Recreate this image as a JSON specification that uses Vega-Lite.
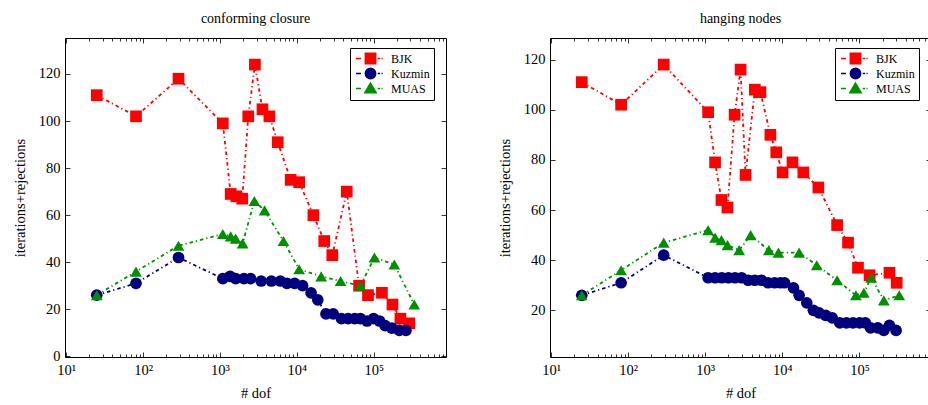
{
  "$schema": "https://vega.github.io/schema/vega-lite/v6.json",
  "padding": {"left": 12, "top": 11, "right": 0, "bottom": 0},
  "config": {
    "font": "Liberation Serif, DejaVu Serif, serif",
    "view": {"stroke": null},
    "axis": {"grid": false, "domainColor": "black", "domainWidth": 1, "tickColor": "black", "tickWidth": 0.8, "labelFont": "Liberation Serif, DejaVu Serif, serif", "labelFontSize": 14.5, "labelColor": "black", "titleFont": "Liberation Serif, DejaVu Serif, serif", "titleFontSize": 14.5, "titleFontWeight": "normal", "titleColor": "black", "labelOverlap": false, "labelFlush": false},
    "title": {"font": "Liberation Serif, DejaVu Serif, serif", "fontSize": 14, "fontWeight": "normal", "color": "black", "offset": 12},
    "legend": {"title": null, "orient": "none", "legendX": 285, "legendY": 10, "strokeColor": "black", "fillColor": "white", "padding": 4, "labelFont": "Liberation Serif, DejaVu Serif, serif", "labelFontSize": 12, "labelColor": "black", "symbolSize": 121, "rowPadding": -4, "symbolOffset": 10, "labelOffset": 14, "symbolStrokeWidth": 1.4, "symbolOpacity": 1, "cornerRadius": 0}
  },
  "datasets": {
    "conforming": [
      {"series": "BJK", "dof": 25, "val": 111}, {"series": "BJK", "dof": 81, "val": 102}, {"series": "BJK", "dof": 289, "val": 118}, {"series": "BJK", "dof": 1089, "val": 99}, {"series": "BJK", "dof": 1378, "val": 69}, {"series": "BJK", "dof": 1633, "val": 68}, {"series": "BJK", "dof": 1950, "val": 67}, {"series": "BJK", "dof": 2333, "val": 102}, {"series": "BJK", "dof": 2846, "val": 124}, {"series": "BJK", "dof": 3570, "val": 105}, {"series": "BJK", "dof": 4393, "val": 102}, {"series": "BJK", "dof": 5640, "val": 91}, {"series": "BJK", "dof": 8300, "val": 75}, {"series": "BJK", "dof": 10700, "val": 74}, {"series": "BJK", "dof": 16400, "val": 60}, {"series": "BJK", "dof": 22700, "val": 49}, {"series": "BJK", "dof": 28900, "val": 43}, {"series": "BJK", "dof": 44500, "val": 70}, {"series": "BJK", "dof": 64400, "val": 30}, {"series": "BJK", "dof": 84100, "val": 26}, {"series": "BJK", "dof": 127600, "val": 27}, {"series": "BJK", "dof": 175000, "val": 22}, {"series": "BJK", "dof": 222000, "val": 16}, {"series": "BJK", "dof": 290000, "val": 14},
      {"series": "Kuzmin", "dof": 25, "val": 26}, {"series": "Kuzmin", "dof": 81, "val": 31}, {"series": "Kuzmin", "dof": 289, "val": 42}, {"series": "Kuzmin", "dof": 1089, "val": 33}, {"series": "Kuzmin", "dof": 1355, "val": 34}, {"series": "Kuzmin", "dof": 1600, "val": 33}, {"series": "Kuzmin", "dof": 2051, "val": 33}, {"series": "Kuzmin", "dof": 2500, "val": 33}, {"series": "Kuzmin", "dof": 3430, "val": 32}, {"series": "Kuzmin", "dof": 4660, "val": 32}, {"series": "Kuzmin", "dof": 6100, "val": 32}, {"series": "Kuzmin", "dof": 7430, "val": 31}, {"series": "Kuzmin", "dof": 9330, "val": 31}, {"series": "Kuzmin", "dof": 11850, "val": 30}, {"series": "Kuzmin", "dof": 15300, "val": 27}, {"series": "Kuzmin", "dof": 18700, "val": 24}, {"series": "Kuzmin", "dof": 23900, "val": 18}, {"series": "Kuzmin", "dof": 29700, "val": 18}, {"series": "Kuzmin", "dof": 38000, "val": 16}, {"series": "Kuzmin", "dof": 46400, "val": 16}, {"series": "Kuzmin", "dof": 56500, "val": 16}, {"series": "Kuzmin", "dof": 67000, "val": 16}, {"series": "Kuzmin", "dof": 81700, "val": 15}, {"series": "Kuzmin", "dof": 99300, "val": 16}, {"series": "Kuzmin", "dof": 118800, "val": 15}, {"series": "Kuzmin", "dof": 140600, "val": 13}, {"series": "Kuzmin", "dof": 171800, "val": 12}, {"series": "Kuzmin", "dof": 215000, "val": 11}, {"series": "Kuzmin", "dof": 262000, "val": 11},
      {"series": "MUAS", "dof": 25, "val": 26}, {"series": "MUAS", "dof": 81, "val": 36}, {"series": "MUAS", "dof": 289, "val": 47}, {"series": "MUAS", "dof": 1089, "val": 52}, {"series": "MUAS", "dof": 1378, "val": 51}, {"series": "MUAS", "dof": 1600, "val": 50}, {"series": "MUAS", "dof": 1970, "val": 48}, {"series": "MUAS", "dof": 2800, "val": 66}, {"series": "MUAS", "dof": 3800, "val": 62}, {"series": "MUAS", "dof": 6700, "val": 49}, {"series": "MUAS", "dof": 10700, "val": 37}, {"series": "MUAS", "dof": 20700, "val": 34}, {"series": "MUAS", "dof": 37000, "val": 32}, {"series": "MUAS", "dof": 67000, "val": 30}, {"series": "MUAS", "dof": 102000, "val": 42}, {"series": "MUAS", "dof": 185000, "val": 39}, {"series": "MUAS", "dof": 336000, "val": 22}
    ],
    "hanging": [
      {"series": "BJK", "dof": 25, "val": 111}, {"series": "BJK", "dof": 81, "val": 102}, {"series": "BJK", "dof": 289, "val": 118}, {"series": "BJK", "dof": 1089, "val": 99}, {"series": "BJK", "dof": 1340, "val": 79}, {"series": "BJK", "dof": 1622, "val": 64}, {"series": "BJK", "dof": 1940, "val": 61}, {"series": "BJK", "dof": 2400, "val": 98}, {"series": "BJK", "dof": 2870, "val": 116}, {"series": "BJK", "dof": 3330, "val": 74}, {"series": "BJK", "dof": 4390, "val": 108}, {"series": "BJK", "dof": 5200, "val": 107}, {"series": "BJK", "dof": 6990, "val": 90}, {"series": "BJK", "dof": 8340, "val": 83}, {"series": "BJK", "dof": 10070, "val": 75}, {"series": "BJK", "dof": 13530, "val": 79}, {"series": "BJK", "dof": 18700, "val": 75}, {"series": "BJK", "dof": 29300, "val": 69}, {"series": "BJK", "dof": 51300, "val": 54}, {"series": "BJK", "dof": 71100, "val": 47}, {"series": "BJK", "dof": 95700, "val": 37}, {"series": "BJK", "dof": 135300, "val": 34}, {"series": "BJK", "dof": 245000, "val": 35}, {"series": "BJK", "dof": 304000, "val": 31},
      {"series": "Kuzmin", "dof": 25, "val": 26}, {"series": "Kuzmin", "dof": 81, "val": 31}, {"series": "Kuzmin", "dof": 289, "val": 42}, {"series": "Kuzmin", "dof": 1089, "val": 33}, {"series": "Kuzmin", "dof": 1343, "val": 33}, {"series": "Kuzmin", "dof": 1637, "val": 33}, {"series": "Kuzmin", "dof": 1995, "val": 33}, {"series": "Kuzmin", "dof": 2428, "val": 33}, {"series": "Kuzmin", "dof": 2958, "val": 33}, {"series": "Kuzmin", "dof": 3606, "val": 32}, {"series": "Kuzmin", "dof": 4387, "val": 32}, {"series": "Kuzmin", "dof": 5346, "val": 32}, {"series": "Kuzmin", "dof": 6530, "val": 31}, {"series": "Kuzmin", "dof": 7943, "val": 31}, {"series": "Kuzmin", "dof": 9400, "val": 31}, {"series": "Kuzmin", "dof": 10670, "val": 31}, {"series": "Kuzmin", "dof": 13930, "val": 29}, {"series": "Kuzmin", "dof": 16490, "val": 26}, {"series": "Kuzmin", "dof": 20730, "val": 23}, {"series": "Kuzmin", "dof": 25240, "val": 20}, {"series": "Kuzmin", "dof": 29860, "val": 19}, {"series": "Kuzmin", "dof": 36390, "val": 18}, {"series": "Kuzmin", "dof": 44290, "val": 17}, {"series": "Kuzmin", "dof": 55590, "val": 15}, {"series": "Kuzmin", "dof": 67760, "val": 15}, {"series": "Kuzmin", "dof": 82410, "val": 15}, {"series": "Kuzmin", "dof": 100600, "val": 15}, {"series": "Kuzmin", "dof": 119100, "val": 15}, {"series": "Kuzmin", "dof": 139300, "val": 13}, {"series": "Kuzmin", "dof": 173000, "val": 13}, {"series": "Kuzmin", "dof": 206500, "val": 12}, {"series": "Kuzmin", "dof": 244800, "val": 14}, {"series": "Kuzmin", "dof": 298500, "val": 12},
      {"series": "MUAS", "dof": 25, "val": 26}, {"series": "MUAS", "dof": 81, "val": 36}, {"series": "MUAS", "dof": 289, "val": 47}, {"series": "MUAS", "dof": 1089, "val": 52}, {"series": "MUAS", "dof": 1343, "val": 49}, {"series": "MUAS", "dof": 1620, "val": 48}, {"series": "MUAS", "dof": 1940, "val": 46}, {"series": "MUAS", "dof": 2750, "val": 44}, {"series": "MUAS", "dof": 3880, "val": 50}, {"series": "MUAS", "dof": 6670, "val": 44}, {"series": "MUAS", "dof": 8890, "val": 43}, {"series": "MUAS", "dof": 16490, "val": 43}, {"series": "MUAS", "dof": 27900, "val": 38}, {"series": "MUAS", "dof": 51300, "val": 32}, {"series": "MUAS", "dof": 89900, "val": 26}, {"series": "MUAS", "dof": 114000, "val": 27}, {"series": "MUAS", "dof": 142000, "val": 33}, {"series": "MUAS", "dof": 207000, "val": 24}, {"series": "MUAS", "dof": 328000, "val": 26}
    ],
    "legendrows": [{"series": "BJK"}, {"series": "Kuzmin"}, {"series": "MUAS"}]
  },
  "spacing": 50,
  "hconcat": [
    {
      "title": "conforming closure",
      "width": 381,
      "height": 319,
      "resolve": {"axis": {"x": "independent", "y": "independent"}, "scale": {"shape": "independent", "color": "independent", "fill": "independent", "stroke": "independent"}},
      "layer": [
        {
          "data": {"name": "conforming"},
          "mark": {"type": "line", "strokeWidth": 1.8, "strokeDash": [3.5, 3, 1.2, 3]},
          "encoding": {
            "x": {"field": "dof", "type": "quantitative", "scale": {"type": "log", "domain": [9.66, 869000], "nice": false},
              "axis": {"orient": "bottom", "title": "# dof", "titlePadding": 8, "values": [10, 20, 30, 40, 50, 60, 70, 80, 90, 100, 200, 300, 400, 500, 600, 700, 800, 900, 1000, 2000, 3000, 4000, 5000, 6000, 7000, 8000, 9000, 10000, 20000, 30000, 40000, 50000, 60000, 70000, 80000, 90000, 100000, 200000, 300000, 400000, 500000, 600000, 700000, 800000],
                "labelExpr": "abs(log(datum.value)/LN10 - round(log(datum.value)/LN10)) < 0.001 ? '10' + (round(log(datum.value)/LN10) == 1 ? '¹' : round(log(datum.value)/LN10) == 2 ? '²' : round(log(datum.value)/LN10) == 3 ? '³' : round(log(datum.value)/LN10) == 4 ? '⁴' : '⁵') : ''",
                "tickSize": {"condition": {"test": "abs(log(datum.value)/LN10 - round(log(datum.value)/LN10)) < 0.001", "value": -5}, "value": -3}, "labelPadding": 11}},
            "y": {"field": "val", "type": "quantitative", "scale": {"domain": [-0.3, 135.3], "nice": false, "zero": false},
              "axis": {"orient": "left", "title": "iterations+rejections", "values": [0, 20, 40, 60, 80, 100, 120], "tickSize": -5, "labelPadding": 10, "titlePadding": 11}},
            "color": {"field": "series", "type": "nominal", "scale": {"domain": ["BJK", "Kuzmin", "MUAS"], "range": ["#ff0000", "#00007f", "#008f00"]}, "legend": null}
          }
        },
        {
          "data": {"name": "conforming"},
          "mark": {"type": "point", "filled": true, "size": 137, "opacity": 1},
          "encoding": {
            "x": {"field": "dof", "type": "quantitative", "axis": null},
            "y": {"field": "val", "type": "quantitative", "axis": null},
            "color": {"field": "series", "type": "nominal", "scale": {"domain": ["BJK", "Kuzmin", "MUAS"], "range": ["#ff0000", "#00007f", "#008f00"]}, "legend": null},
            "shape": {"field": "series", "type": "nominal", "scale": {"domain": ["BJK", "Kuzmin", "MUAS"], "range": ["square", "circle", "triangle-up"]}, "legend": null}
          }
        },
        {
          "data": {"name": "conforming"},
          "mark": {"type": "point", "opacity": 0},
          "encoding": {
            "x": {"field": "dof", "type": "quantitative",
              "axis": {"orient": "top", "title": null, "labels": false, "values": [10, 20, 30, 40, 50, 60, 70, 80, 90, 100, 200, 300, 400, 500, 600, 700, 800, 900, 1000, 2000, 3000, 4000, 5000, 6000, 7000, 8000, 9000, 10000, 20000, 30000, 40000, 50000, 60000, 70000, 80000, 90000, 100000, 200000, 300000, 400000, 500000, 600000, 700000, 800000],
                "tickSize": {"condition": {"test": "abs(log(datum.value)/LN10 - round(log(datum.value)/LN10)) < 0.001", "value": -5}, "value": -3}}},
            "y": {"field": "val", "type": "quantitative", "axis": {"orient": "right", "title": null, "labels": false, "values": [0, 20, 40, 60, 80, 100, 120], "tickSize": -5}}
          }
        },
        {
          "data": {"name": "legendrows"},
          "mark": {"type": "point", "filled": true, "strokeWidth": 1.4, "opacity": 1},
          "encoding": {
            "x": {"field": "dof", "type": "quantitative", "axis": null},
            "y": {"field": "val", "type": "quantitative", "axis": null},
            "fill": {"field": "series", "type": "nominal", "scale": {"domain": ["BJK", "Kuzmin", "MUAS"], "range": ["#ff0000", "#00007f", "#008f00"]}},
            "stroke": {"field": "series", "type": "nominal", "scale": {"domain": ["BJK", "Kuzmin", "MUAS"], "range": ["#ff0000", "#00007f", "#008f00"]}},
            "shape": {"field": "series", "type": "nominal", "scale": {"domain": ["BJK", "Kuzmin", "MUAS"], "range": [
              "M-2.64,0H-1.73M1.31,0H1.75M2,0H2.2M-0.95,-0.95H0.95V0.95H-0.95Z",
              "M-2.64,0H-1.73M1.31,0H1.75M2,0H2.2M-0.95,0A0.95,0.95 0 1,0 0.95,0A0.95,0.95 0 1,0 -0.95,0Z",
              "M-2.64,0H-1.73M1.31,0H1.75M2,0H2.2M0,-1L1.05,0.8H-1.05Z"]}}
          }
        }
      ]
    },
    {
      "title": "hanging nodes",
      "width": 381,
      "height": 319,
      "resolve": {"axis": {"x": "independent", "y": "independent"}, "scale": {"shape": "independent", "color": "independent", "fill": "independent", "stroke": "independent"}},
      "layer": [
        {
          "data": {"name": "hanging"},
          "mark": {"type": "line", "strokeWidth": 1.8, "strokeDash": [3.5, 3, 1.2, 3]},
          "encoding": {
            "x": {"field": "dof", "type": "quantitative", "scale": {"type": "log", "domain": [9.68, 847000], "nice": false},
              "axis": {"orient": "bottom", "title": "# dof", "titlePadding": 8, "values": [10, 20, 30, 40, 50, 60, 70, 80, 90, 100, 200, 300, 400, 500, 600, 700, 800, 900, 1000, 2000, 3000, 4000, 5000, 6000, 7000, 8000, 9000, 10000, 20000, 30000, 40000, 50000, 60000, 70000, 80000, 90000, 100000, 200000, 300000, 400000, 500000, 600000, 700000, 800000],
                "labelExpr": "abs(log(datum.value)/LN10 - round(log(datum.value)/LN10)) < 0.001 ? '10' + (round(log(datum.value)/LN10) == 1 ? '¹' : round(log(datum.value)/LN10) == 2 ? '²' : round(log(datum.value)/LN10) == 3 ? '³' : round(log(datum.value)/LN10) == 4 ? '⁴' : '⁵') : ''",
                "tickSize": {"condition": {"test": "abs(log(datum.value)/LN10 - round(log(datum.value)/LN10)) < 0.001", "value": -5}, "value": -3}, "labelPadding": 11}},
            "y": {"field": "val", "type": "quantitative", "scale": {"domain": [1.4, 128.6], "nice": false, "zero": false},
              "axis": {"orient": "left", "title": "iterations+rejections", "values": [20, 40, 60, 80, 100, 120], "tickSize": -5, "labelPadding": 10, "titlePadding": 11}},
            "color": {"field": "series", "type": "nominal", "scale": {"domain": ["BJK", "Kuzmin", "MUAS"], "range": ["#ff0000", "#00007f", "#008f00"]}, "legend": null}
          }
        },
        {
          "data": {"name": "hanging"},
          "mark": {"type": "point", "filled": true, "size": 137, "opacity": 1},
          "encoding": {
            "x": {"field": "dof", "type": "quantitative", "axis": null},
            "y": {"field": "val", "type": "quantitative", "axis": null},
            "color": {"field": "series", "type": "nominal", "scale": {"domain": ["BJK", "Kuzmin", "MUAS"], "range": ["#ff0000", "#00007f", "#008f00"]}, "legend": null},
            "shape": {"field": "series", "type": "nominal", "scale": {"domain": ["BJK", "Kuzmin", "MUAS"], "range": ["square", "circle", "triangle-up"]}, "legend": null}
          }
        },
        {
          "data": {"name": "hanging"},
          "mark": {"type": "point", "opacity": 0},
          "encoding": {
            "x": {"field": "dof", "type": "quantitative",
              "axis": {"orient": "top", "title": null, "labels": false, "values": [10, 20, 30, 40, 50, 60, 70, 80, 90, 100, 200, 300, 400, 500, 600, 700, 800, 900, 1000, 2000, 3000, 4000, 5000, 6000, 7000, 8000, 9000, 10000, 20000, 30000, 40000, 50000, 60000, 70000, 80000, 90000, 100000, 200000, 300000, 400000, 500000, 600000, 700000, 800000],
                "tickSize": {"condition": {"test": "abs(log(datum.value)/LN10 - round(log(datum.value)/LN10)) < 0.001", "value": -5}, "value": -3}}},
            "y": {"field": "val", "type": "quantitative", "axis": {"orient": "right", "title": null, "labels": false, "values": [20, 40, 60, 80, 100, 120], "tickSize": -5}}
          }
        },
        {
          "data": {"name": "legendrows"},
          "mark": {"type": "point", "filled": true, "strokeWidth": 1.4, "opacity": 1},
          "encoding": {
            "x": {"field": "dof", "type": "quantitative", "axis": null},
            "y": {"field": "val", "type": "quantitative", "axis": null},
            "fill": {"field": "series", "type": "nominal", "scale": {"domain": ["BJK", "Kuzmin", "MUAS"], "range": ["#ff0000", "#00007f", "#008f00"]}},
            "stroke": {"field": "series", "type": "nominal", "scale": {"domain": ["BJK", "Kuzmin", "MUAS"], "range": ["#ff0000", "#00007f", "#008f00"]}},
            "shape": {"field": "series", "type": "nominal", "scale": {"domain": ["BJK", "Kuzmin", "MUAS"], "range": [
              "M-2.64,0H-1.73M1.31,0H1.75M2,0H2.2M-0.95,-0.95H0.95V0.95H-0.95Z",
              "M-2.64,0H-1.73M1.31,0H1.75M2,0H2.2M-0.95,0A0.95,0.95 0 1,0 0.95,0A0.95,0.95 0 1,0 -0.95,0Z",
              "M-2.64,0H-1.73M1.31,0H1.75M2,0H2.2M0,-1L1.05,0.8H-1.05Z"]}}
          }
        }
      ]
    }
  ]
}
